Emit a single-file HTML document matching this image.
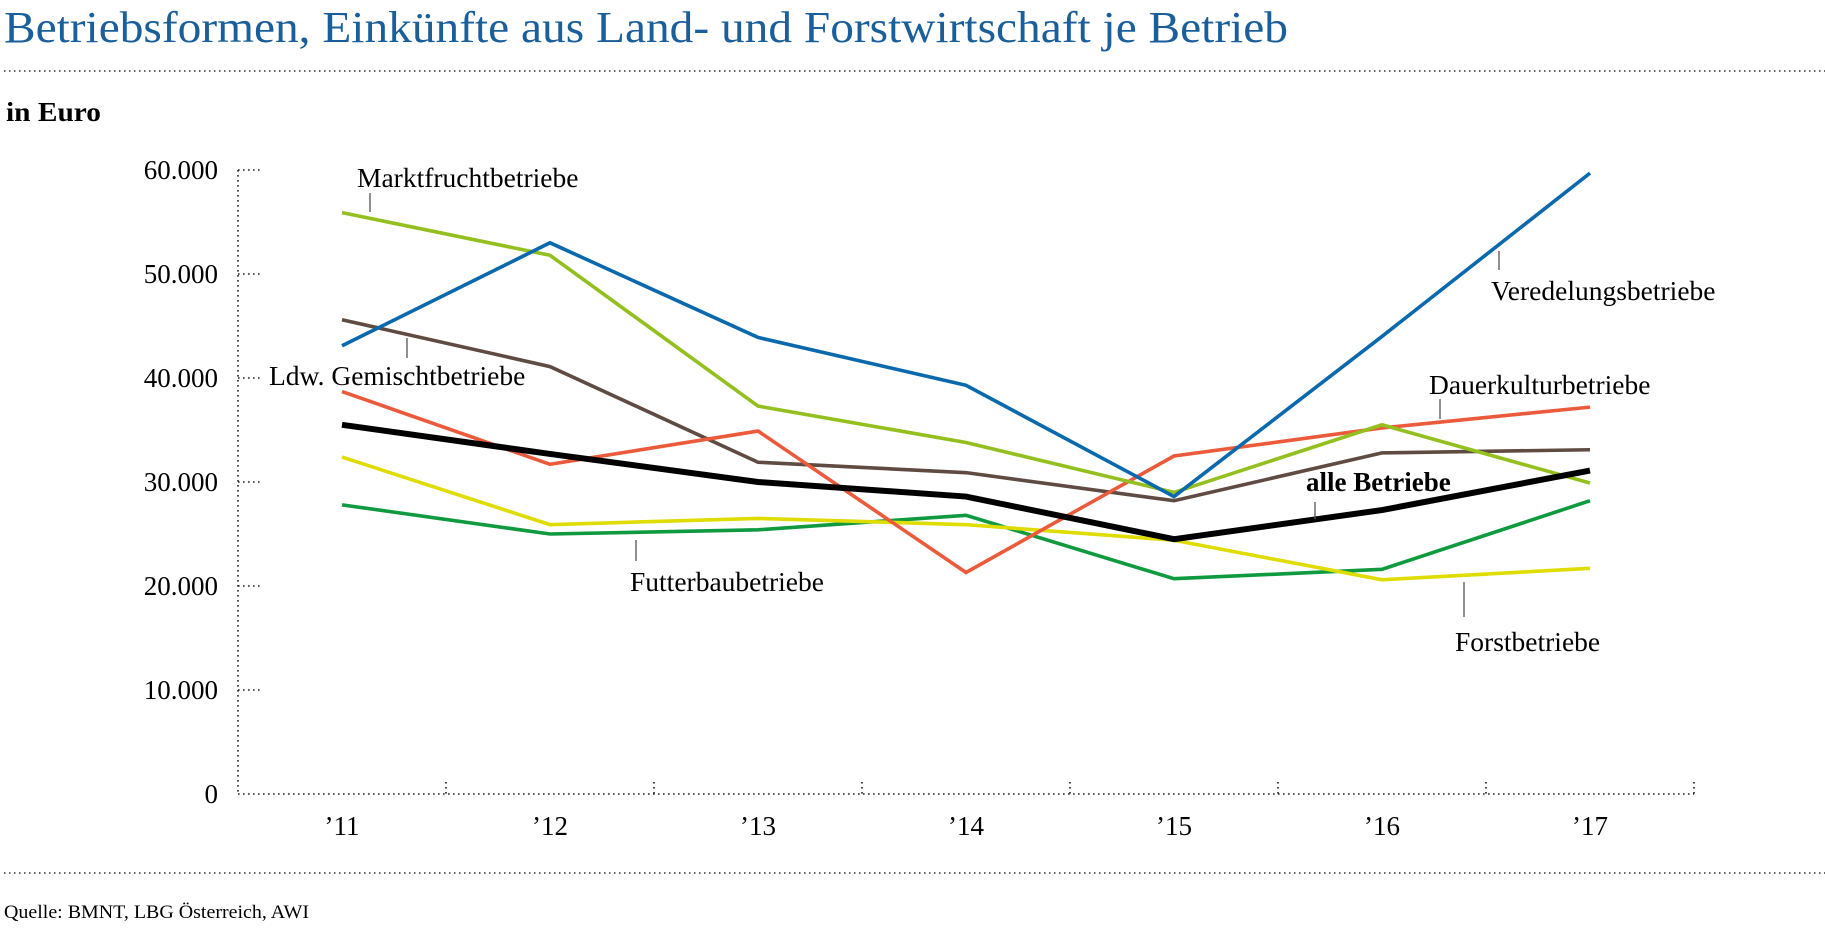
<!DOCTYPE html>
<html><head><meta charset="utf-8">
<style>
body{margin:0;background:#fff;width:1825px;height:929px;overflow:hidden}
svg{display:block}
text{font-family:"Liberation Serif",serif}
</style></head>
<body>
<svg id="chart" width="1825" height="929" viewBox="0 0 1825 929">
<text x="4" y="42" font-size="44" fill="#1a5e9a" textLength="1284" lengthAdjust="spacingAndGlyphs">Betriebsformen, Einkünfte aus Land- und Forstwirtschaft je Betrieb</text>
<line x1="4" y1="71" x2="1825" y2="71" stroke="#333" stroke-width="1.5" stroke-dasharray="1.5,3.5"/>
<text x="6" y="121" font-size="27" font-weight="bold" fill="#000" textLength="95" lengthAdjust="spacingAndGlyphs">in Euro</text>
<line x1="4" y1="873" x2="1825" y2="873" stroke="#333" stroke-width="1.5" stroke-dasharray="1.5,3.5"/>
<text x="4" y="918" font-size="19" fill="#000" textLength="305" lengthAdjust="spacingAndGlyphs">Quelle: BMNT, LBG Österreich, AWI</text>
<g id="axes"></g>
<g id="series"></g>
<g id="labels"></g>
</svg>
<script>
const years = ["’11","’12","’13","’14","’15","’16","’17"];
const yTicks = [0,10000,20000,30000,40000,50000,60000];
const yTickLabels = ["0","10.000","20.000","30.000","40.000","50.000","60.000"];
const veredelung = [43100,53000,43900,39300,28600,44000,59700];
const marktfrucht = [55900,51800,37300,33800,29000,35500,29900];
const gemischt = [45600,41100,31900,30900,28200,32800,33100];
const dauerkultur = [38700,31700,34900,21300,32500,35200,37200];
const alle = [35500,32700,30000,28600,24500,27300,31100];
const forst = [32400,25900,26500,25900,24400,20600,21700];
const futterbau = [27800,25000,25400,26800,20700,21600,28200];

const NS="http://www.w3.org/2000/svg";
const x0=238, step=208, firstX=342, yZero=794, pxPer10k=104;
const xs=i=>firstX+i*step;
const ys=v=>yZero-v/10000*pxPer10k;
function mk(tag,attrs,parent){const e=document.createElementNS(NS,tag);for(const k in attrs)e.setAttribute(k,attrs[k]);parent.appendChild(e);return e;}
const axes=document.getElementById('axes');
const dot={stroke:"#222","stroke-width":"1.6","stroke-dasharray":"1.6,3.4"};
let yl=mk('line',Object.assign({x1:x0,y1:ys(60000),x2:x0,y2:yZero},dot),axes);


let xl=mk('line',Object.assign({x1:x0,y1:yZero,x2:x0+7*step,y2:yZero},dot),axes);


yTicks.forEach((v,i)=>{
  if(v>0){const t=mk('line',Object.assign({x1:x0,y1:ys(v),x2:x0+22,y2:ys(v)},dot),axes);
  
  }
  const l=mk('text',{x:218,y:ys(v)+9,"font-size":27,"text-anchor":"end",fill:"#000"},axes);
  l.textContent=yTickLabels[i];
  
  
});
for(let i=1;i<=7;i++){
  const t=mk('line',Object.assign({x1:x0+i*step,y1:yZero-12,x2:x0+i*step,y2:yZero},dot),axes);
  
  
}
years.forEach((y,i)=>{
  const l=mk('text',{x:xs(i),y:835,"font-size":27,"text-anchor":"middle",fill:"#000"},axes);
  l.textContent=y;
  
  
});
const ser=document.getElementById('series');
function line(data,color,w,name){
  const p=mk('polyline',{points:data.map((v,i)=>xs(i)+","+ys(v)).join(" "),fill:"none",stroke:color,"stroke-width":w,"stroke-linejoin":"miter"},ser);
  
  
}
line(futterbau,"#109a3f",3.6,"series-futterbaubetriebe");
line(forst,"#dfdc00",3.6,"series-forstbetriebe");
line(gemischt,"#5f4b42",3.6,"series-gemischtbetriebe");
line(dauerkultur,"#ec5a3c",3.6,"series-dauerkulturbetriebe");
line(marktfrucht,"#93c01f",3.6,"series-marktfruchtbetriebe");
line(veredelung,"#0a69ad",3.6,"series-veredelungsbetriebe");
line(alle,"#000000",6,"series-alle-betriebe");
const lab=document.getElementById('labels');
function label(txt,x,y,lx,ly1,ly2,name,bold){
  const t=mk('text',{x:x,y:y,"font-size":bold?27:27.5,fill:"#000"},lab);
  if(bold)t.setAttribute('font-weight','bold');
  t.textContent=txt;
  
  
  const l=mk('line',{x1:lx,y1:ly1,x2:lx,y2:ly2,stroke:"#555","stroke-width":1.3},lab);
  
  
}
label("Marktfruchtbetriebe",357,187,370,193,212,"label-marktfrucht");
label("Ldw. Gemischtbetriebe",269,385,407,338,358,"label-gemischt");
label("Veredelungsbetriebe",1491,300,1499,251,270,"label-veredelung");
label("Dauerkulturbetriebe",1429,394,1440,399,419,"label-dauerkultur");
label("alle Betriebe",1306,491,1315,502,519,"label-alle",true);
label("Futterbaubetriebe",630,591,636,540,561,"label-futterbau");
label("Forstbetriebe",1455,651,1464,582,617,"label-forst");
</script>
</body></html>
